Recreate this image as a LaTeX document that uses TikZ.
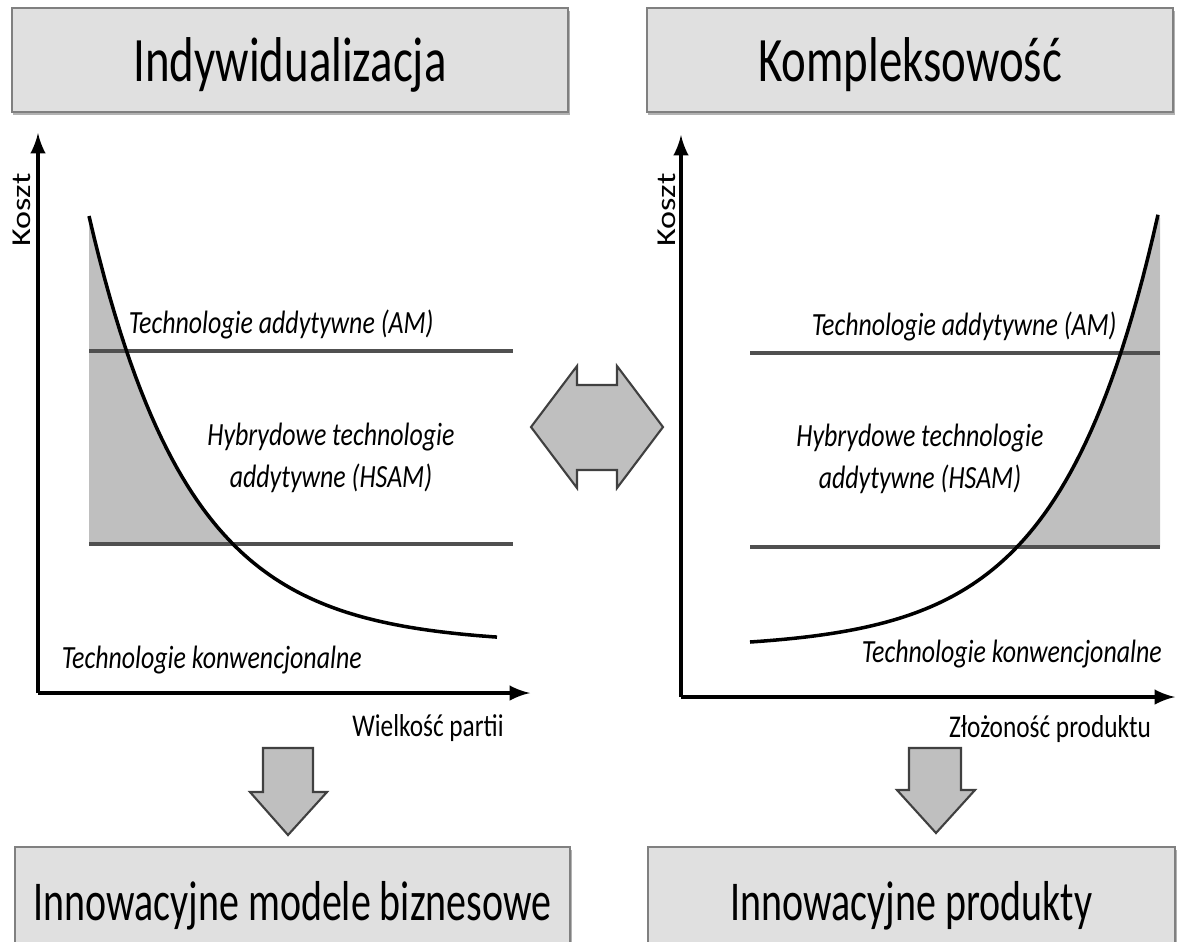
\documentclass[tikz,border=0pt]{standalone}
\usepackage{fontspec}
\setmainfont{Carlito}[FakeStretch=0.8]
\newfontfamily\tytulfont{Carlito}[FakeStretch=0.74]
\newfontfamily\wynikfont{Carlito}[FakeStretch=0.71]
\newfontfamily\osfont{Carlito}
\usetikzlibrary{arrows,shadows}

\definecolor{boxgray}{HTML}{E0E0E0}
\definecolor{shadegray}{HTML}{BFBFBF}
\definecolor{linegray}{HTML}{505050}
\definecolor{framegray}{HTML}{808080}

\tikzset{
  titlebox/.style={draw=framegray,fill=boxgray,line width=0.6pt,inner sep=0pt,
    drop shadow={shadow xshift=0.4pt,shadow yshift=-0.9pt,fill=black!60}},
  techlabel/.style={font=\fontsize{9.2}{11.7}\selectfont\itshape,inner sep=0pt},
  axislabel/.style={font=\fontsize{9}{11}\selectfont,inner sep=0pt},
  costlabel/.style={font=\osfont\fontsize{9.7}{11}\selectfont,inner sep=0pt,rotate=90},
  levelline/.style={draw=linegray,line width=1.2pt},
  blockarrow/.style={fill=shadegray,draw=black!75,line width=0.6pt,line join=miter},
}

\begin{document}
\begin{tikzpicture}[x=0.01cm,y=-0.01cm,>=latex,line width=1pt]
\useasboundingbox (0,0) rectangle (1184,941);

% naglowki i wyniki
\node[titlebox,minimum width=5.56cm,minimum height=1.04cm,text height=14pt,
  text depth=1.5pt,font=\tytulfont\fontsize{18}{21}\selectfont] (indyw) at (290,60)
  {Indywidualizacja};
\node[titlebox,minimum width=5.26cm,minimum height=1.04cm,text height=14pt,
  text depth=1.5pt,font=\tytulfont\fontsize{18}{21}\selectfont] (kompl) at (910,60)
  {Kompleksowość};
\node[titlebox,minimum width=5.55cm,minimum height=1.13cm,text height=12pt,
  text depth=2.6pt,font=\wynikfont\fontsize{16}{19}\selectfont] (modele) at (292.5,903.5)
  {Innowacyjne modele biznesowe};
\node[titlebox,minimum width=5.27cm,minimum height=1.13cm,text height=12pt,
  text depth=2.6pt,font=\wynikfont\fontsize{16}{19}\selectfont] (produkty) at (911.5,903.5)
  {Innowacyjne produkty};

% lewy wykres
\coordinate (oL) at (38,693);
\coordinate (yL) at (38,133);
\coordinate (xL) at (530,693);
\fill[shadegray] (89,544) -- plot[domain=89:233,samples=40]
  (\x,{644-428*exp(-0.0101*(\x-89))}) -- cycle;
\draw[levelline] (89,351) -- (513,351);
\draw[levelline] (89,544) -- (513,544);
\draw plot[domain=89:497,samples=80] (\x,{644-428*exp(-0.0101*(\x-89))});
\draw[->] (oL) -- (yL);
\draw[->] (oL) -- (xL);
\node[costlabel] (kosztL) at (22,210) {\scalebox{1}[0.8]{Koszt}};
\node[axislabel] (partii) at (428,728) {Wielkość partii};
\node[techlabel,anchor=base west] (amL) at (127,333) {Technologie addytywne (AM)};
\node[techlabel,align=center,anchor=base] (hsamL) at (331,487)
  {Hybrydowe technologie\\addytywne (HSAM)};
\node[techlabel,anchor=base west] (konwL) at (60,668) {Technologie konwencjonalne};

% prawy wykres
\coordinate (oR) at (681,697);
\coordinate (yR) at (681,135);
\coordinate (xR) at (1175,697);
\fill[shadegray] (1160,547) -- plot[domain=1017:1158,samples=40]
  (\x,{642-6.49*(exp(0.0103*(\x-750))-1)}) -- (1160,218) -- cycle;
\draw[levelline] (750,353) -- (1160,353);
\draw[levelline] (750,547) -- (1160,547);
\draw plot[domain=750:1158,samples=80] (\x,{642-6.49*(exp(0.0103*(\x-750))-1)});
\draw[->] (oR) -- (yR);
\draw[->] (oR) -- (xR);
\node[costlabel] (kosztR) at (667,210) {\scalebox{1}[0.8]{Koszt}};
\node[axislabel] (zlozonosc) at (1050,729) {Złożoność produktu};
\node[techlabel,anchor=base west] (amR) at (810,335) {Technologie addytywne (AM)};
\node[techlabel,align=center,anchor=base] (hsamR) at (920,488)
  {Hybrydowe technologie\\addytywne (HSAM)};
\node[techlabel,anchor=base west] (konwR) at (860,662) {Technologie konwencjonalne};

% strzalki blokowe
\draw[blockarrow] (531,427) -- (577,366) -- (577,385) -- (617,385) -- (617,366)
  -- (663,427) -- (617,488) -- (617,470) -- (577,470) -- (577,488) -- cycle;
\draw[blockarrow] (263,748) -- (313,748) -- (313,792) -- (327,792) -- (288,835)
  -- (250,792) -- (263,792) -- cycle;
\draw[blockarrow] (909,748) -- (961,748) -- (961,790) -- (975,790) -- (936,833)
  -- (897,790) -- (909,790) -- cycle;
\end{tikzpicture}
\end{document}
